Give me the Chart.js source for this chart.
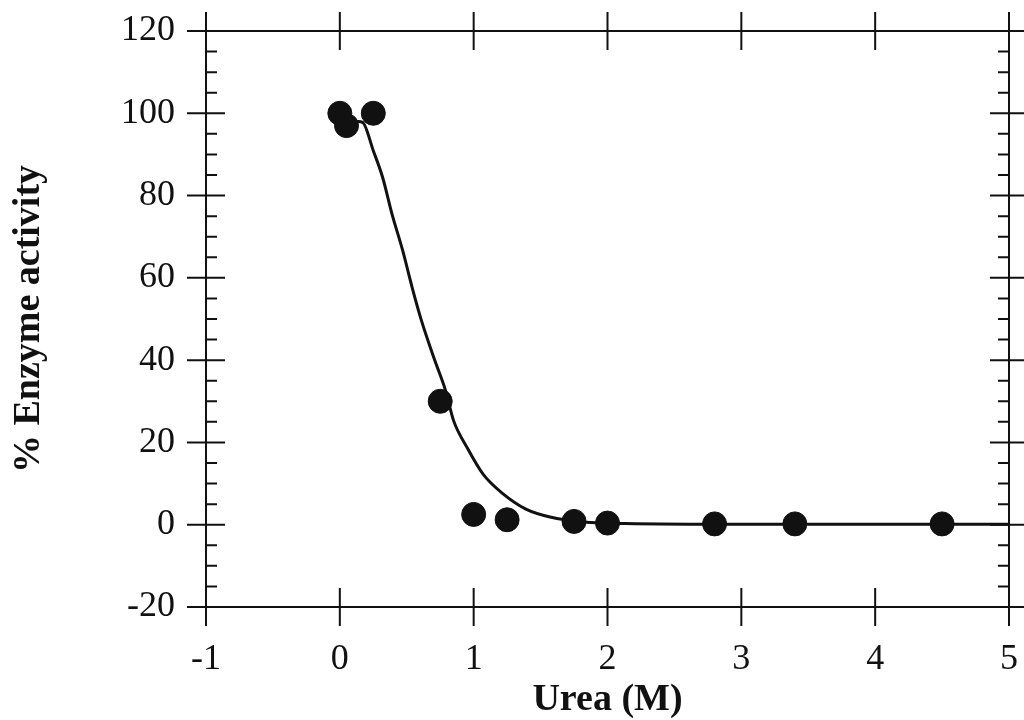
<!DOCTYPE html>
<html>
<head>
<meta charset="utf-8">
<script src="https://cdn.jsdelivr.net/npm/chart.js@4.4.1/dist/chart.umd.min.js"></script>
<style>
  html, body { margin: 0; padding: 0; background: #fff; }
  #wrap { width: 1024px; height: 720px; }
</style>
</head>
<body>
<div id="wrap"><canvas id="chart" width="1024" height="720"></canvas></div>
<script>
// measured points (urea M, % activity)
const ureaX = [0, 0.05, 0.25, 0.75, 1.0, 1.25, 1.75, 2.0, 2.8, 3.4, 4.5];
const activityY = [100, 97, 100, 30, 2.5, 1.2, 0.8, 0.4, 0.2, 0.2, 0.2];

// fitted curve
const curveX = [0.13, 0.17, 0.25, 0.32, 0.39, 0.47, 0.54, 0.61, 0.71, 0.79, 0.85, 0.95, 1.07, 1.22, 1.39, 1.58, 1.78, 2.13, 3, 4, 5];
const curveY = [98, 97.8, 90.9, 84.4, 75.5, 66.6, 57.7, 49.6, 39.9, 32.6, 25.3, 18.8, 12.3, 7.5, 3.8, 1.8, 0.8, 0.3, 0.1, 0.1, 0.1];

const xTicks = [-1, 0, 1, 2, 3, 4, 5];
const yTicks = [-20, 0, 20, 40, 60, 80, 100, 120];
const yMinorStep = 5;

const INK = '#111';

// frame + crossing major ticks + inner minor ticks
const frameTicks = {
    id: 'frameTicks',
    afterDraw(chart) {
        const { ctx, chartArea: a, scales } = chart;
        const xs = scales.x, ys = scales.y;
        const major = 19, minor = 11;
        ctx.save();
        ctx.strokeStyle = INK;
        ctx.lineWidth = 2;
        ctx.beginPath();
        ctx.rect(a.left, a.top, a.right - a.left, a.bottom - a.top);
        ctx.stroke();

        ctx.beginPath();
        xTicks.forEach(v => {
            const px = xs.getPixelForValue(v);
            ctx.moveTo(px, a.bottom - major); ctx.lineTo(px, a.bottom + major);
            ctx.moveTo(px, a.top - major); ctx.lineTo(px, a.top + major);
        });
        yTicks.forEach(v => {
            const py = ys.getPixelForValue(v);
            ctx.moveTo(a.left - major, py); ctx.lineTo(a.left + major, py);
            ctx.moveTo(a.right - major, py); ctx.lineTo(a.right + major, py);
        });
        for (let v = ys.min; v <= ys.max; v += yMinorStep) {
            if (yTicks.includes(v)) continue;
            const py = ys.getPixelForValue(v);
            ctx.moveTo(a.left, py); ctx.lineTo(a.left + minor, py);
            ctx.moveTo(a.right - minor, py); ctx.lineTo(a.right, py);
        }
        ctx.stroke();
        ctx.restore();
    }
};

const tickFont = { family: '"Liberation Serif", "Times New Roman", serif', size: 36 };
const titleFont = { family: '"Liberation Serif", "Times New Roman", serif', size: 38, weight: 'bold', lineHeight: 1 };

new Chart(document.getElementById('chart').getContext('2d'), {
    type: 'scatter',
    data: {
        datasets: [
            {
                type: 'line',
                data: curveX.map((x, i) => ({ x: x, y: curveY[i] })),
                borderColor: INK,
                borderWidth: 3,
                pointRadius: 0,
                cubicInterpolationMode: 'monotone',
                fill: false,
                order: 2
            },
            {
                data: ureaX.map((x, i) => ({ x: x, y: activityY[i] })),
                backgroundColor: INK,
                borderColor: INK,
                pointRadius: 12,
                pointHoverRadius: 12,
                order: 1
            }
        ]
    },
    options: {
        responsive: false,
        animation: false,
        layout: { padding: { top: 31, right: 15, left: 0, bottom: 0 } },
        plugins: { legend: { display: false }, tooltip: { enabled: false } },
        scales: {
            x: {
                type: 'linear',
                min: -1, max: 5,
                afterBuildTicks: s => { s.ticks = xTicks.map(v => ({ value: v })); },
                afterFit: s => { s.height = 113; s.paddingLeft = 0; s.paddingRight = 0; },
                grid: { display: false, drawTicks: false },
                border: { display: false },
                ticks: { font: tickFont, color: INK, padding: 31, autoSkip: false, maxRotation: 0 },
                title: { display: true, text: 'Urea (M)', font: titleFont, color: INK, padding: { top: 0, bottom: 1 } }
            },
            y: {
                type: 'linear',
                min: -20, max: 120,
                afterBuildTicks: s => { s.ticks = yTicks.map(v => ({ value: v })); },
                afterFit: s => { s.width = 206; s.paddingTop = 0; s.paddingBottom = 0; },
                grid: { display: false, drawTicks: false },
                border: { display: false },
                ticks: { font: tickFont, color: INK, padding: 31, autoSkip: false },
                title: { display: true, text: '% Enzyme activity', font: titleFont, color: INK, padding: { top: 10, bottom: 0 } }
            }
        }
    },
    plugins: [frameTicks]
});
</script>
</body>
</html>
